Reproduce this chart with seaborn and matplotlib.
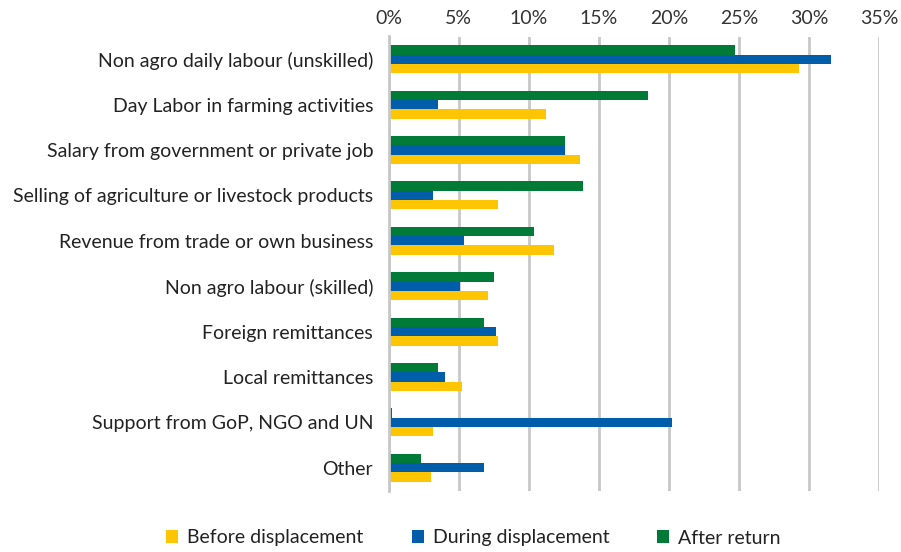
import matplotlib
matplotlib.use("Agg")
import matplotlib.pyplot as plt
import seaborn as sns
import pandas as pd
from matplotlib.patches import Patch
from matplotlib.ticker import FuncFormatter

categories = [
    "Non agro daily labour (unskilled)",
    "Day Labor in farming activities",
    "Salary from government or private job",
    "Selling of agriculture or livestock products",
    "Revenue from trade or own business",
    "Non agro labour (skilled)",
    "Foreign remittances",
    "Local remittances",
    "Support from GoP, NGO and UN",
    "Other",
]
before = [29.3, 11.25, 13.7, 7.8, 11.8, 7.1, 7.8, 5.25, 3.15, 3.0]
during = [31.6, 3.5, 12.6, 3.15, 5.4, 5.1, 7.65, 4.0, 20.2, 6.8]
after = [24.7, 18.5, 12.6, 13.85, 10.4, 7.5, 6.8, 3.5, 0.25, 2.3]
series_names = ["Before displacement", "During displacement", "After return"]
ticks = [0, 5, 10, 15, 20, 25, 30, 35]

colors = {"Before displacement": "#FFC600",
          "During displacement": "#005DAA",
          "After return": "#007A37"}

rows = []
for name, vals in zip(series_names, [before, during, after]):
    for c, v in zip(categories, vals):
        rows.append({"category": c, "series": name, "value": v})
df = pd.DataFrame(rows)

sns.set_style("white")
plt.rcParams['font.family'] = ['Lato', 'DejaVu Sans']

fig = plt.figure(figsize=(9.01, 5.52), dpi=100)
ax = fig.add_axes([388.5 / 901, 1 - 490.5 / 552, (879 - 388.5) / 901, (490.5 - 36.5) / 552])

hue_order = ["After return", "During displacement", "Before displacement"]
sns.barplot(data=df, y="category", x="value", hue="series", order=categories,
            hue_order=hue_order, palette=colors, orient="h", width=0.62,
            ax=ax, legend=False, saturation=1, edgecolor="none", linewidth=0)

ax.set_xlim(0, 35)
ax.set_xticks(ticks)
ax.xaxis.set_major_formatter(FuncFormatter(lambda v, p: f"{int(v)}%"))
ax.xaxis.tick_top()
ax.tick_params(axis="x", length=0, pad=7, labelsize=14, labelcolor="#333333")
ax.tick_params(axis="y", length=0, pad=11, labelsize=14, labelcolor="#222222")
ax.set_xlabel("")
ax.set_ylabel("")
ax.grid(axis="x", color="#C8C8C8", linewidth=2)
ax.set_axisbelow(True)
for s in ["top", "right", "bottom"]:
    ax.spines[s].set_visible(False)
ax.spines["left"].set_color("#C8C8C8")
ax.spines["left"].set_linewidth(2)

handles = [Patch(facecolor=colors[n], edgecolor="none") for n in series_names]
fig.legend(handles, series_names, loc="center", bbox_to_anchor=(473.5 / 901, 1 - 538 / 552),
           ncol=3, frameon=False, fontsize=14, handlelength=0.62, handleheight=0.62,
           columnspacing=2.47, handletextpad=0.46, labelcolor="#222222")

fig.savefig("out.png", dpi=100)
